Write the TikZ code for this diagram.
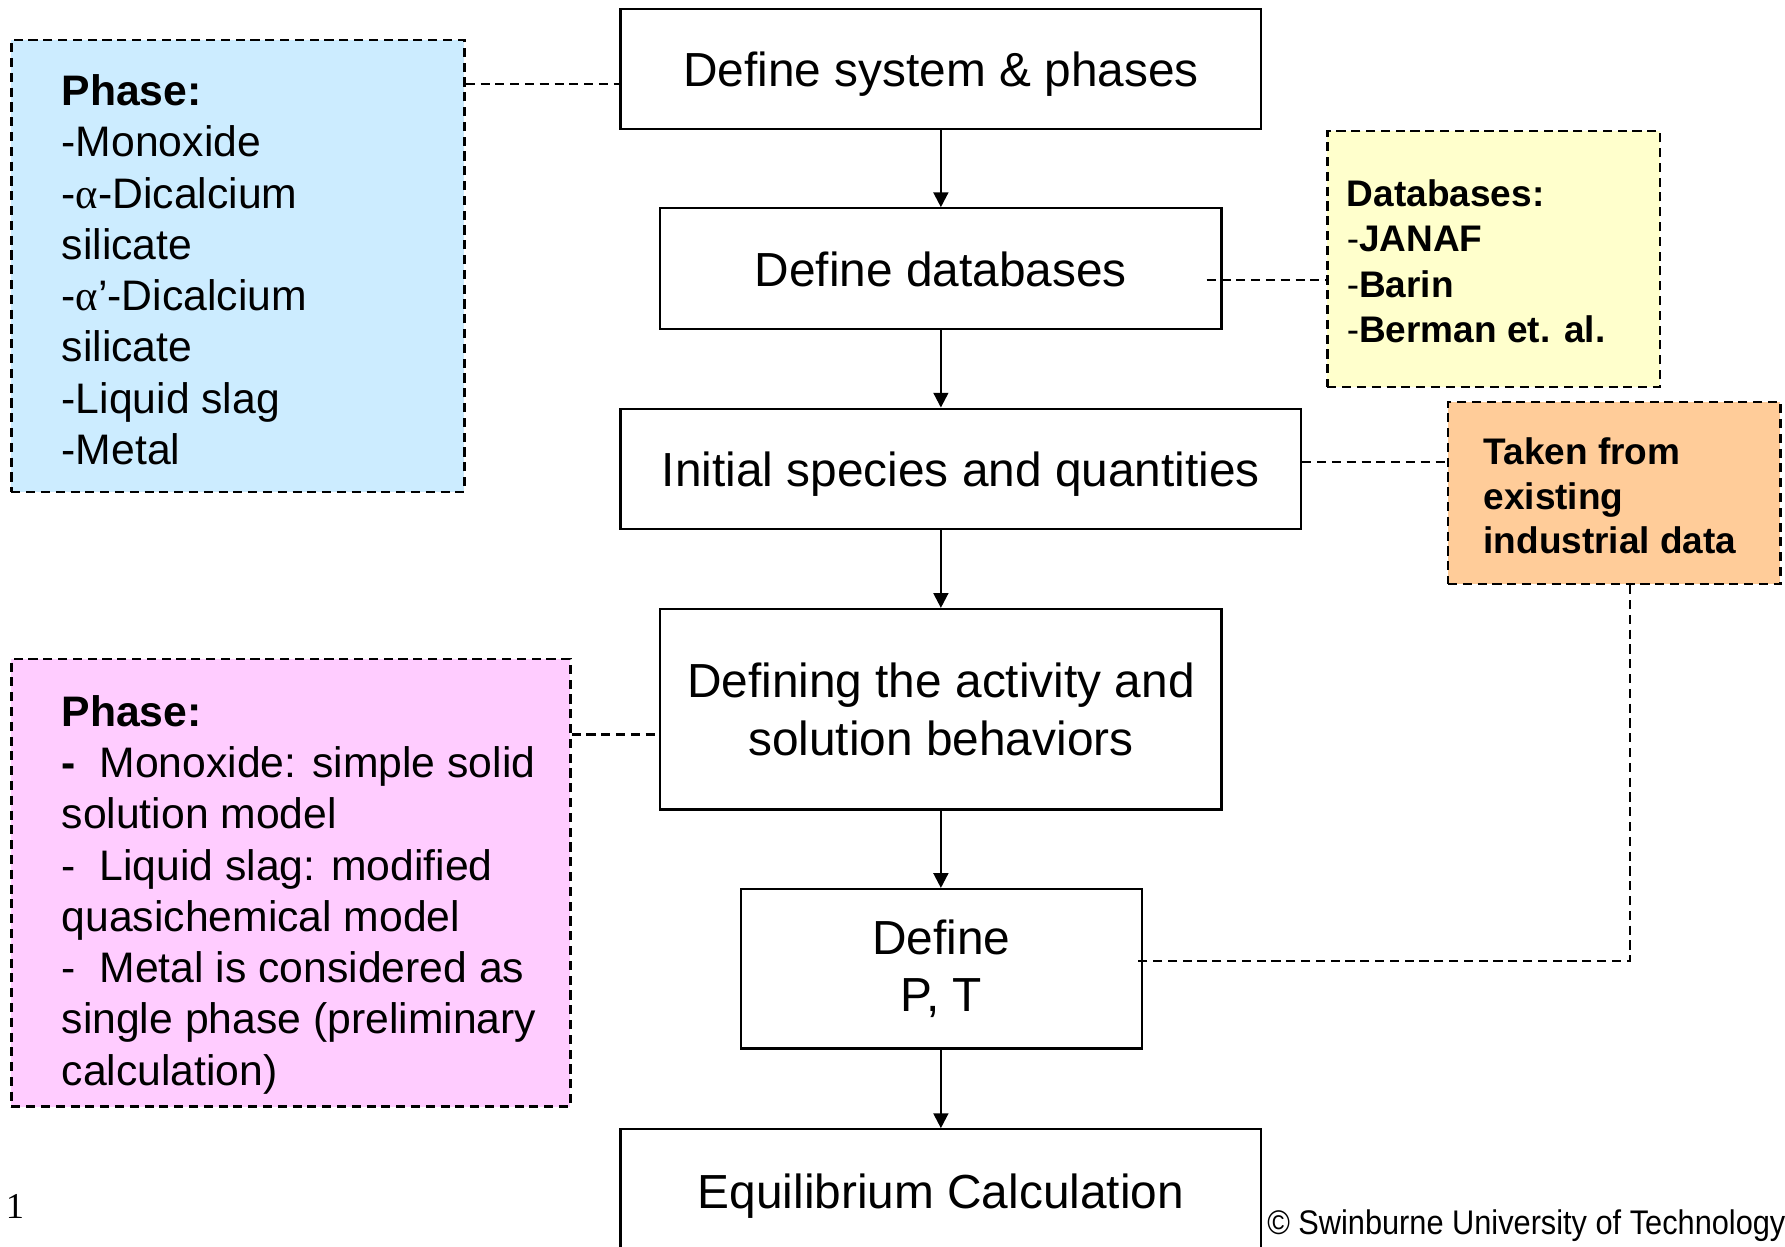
\documentclass[tikz,border=0pt]{standalone}
\usepackage{fontspec}
\usepackage{graphicx}
\setmainfont{Liberation Sans}
\newfontfamily\serifgreek{Liberation Serif}
\usetikzlibrary{arrows.meta,calc}
\definecolor{bluefill}{HTML}{CCECFF}
\definecolor{yellowfill}{HTML}{FFFFCC}
\definecolor{orangefill}{HTML}{FFCC99}
\definecolor{pinkfill}{HTML}{FFCCFF}
\newcommand{\galpha}{{\serifgreek α}}
\begin{document}
\begin{tikzpicture}[x=1pt,y=-1pt,
  mainbox/.style={draw=black,line width=2pt,fill=white,inner sep=0pt,align=center,
    font=\fontsize{42}{50.4}\selectfont},
  oneline/.style={text height=31pt,text depth=0pt},
  sidebox/.style={draw=black,line width=2.2pt,dash pattern=on 8pt off 5pt,inner sep=0pt},
  sidetext/.style={inner sep=0pt,align=left,anchor=west},
  flow/.style={line width=2pt,-{Triangle[length=13pt,width=13pt]}},
  dashline/.style={line width=2.2pt,dash pattern=on 8pt off 5pt}]
\useasboundingbox (0,0) rectangle (1568,1095);
% side boxes
\node[sidebox,fill=bluefill,minimum width=398pt,minimum height=397pt] (blue) at (209,233.5) {};
\node[sidetext,font=\fontsize{37.5}{45}\selectfont] (bluetext) at (54,237)
  {\textbf{Phase:}\\-Monoxide\\-\galpha-Dicalcium\\silicate\\-\galpha’-Dicalcium\\silicate\\-Liquid slag\\-Metal};
\node[sidebox,fill=yellowfill,minimum width=292pt,minimum height=225pt] (yel) at (1312,227.5) {};
\node[sidetext,font=\fontsize{32.5}{39.7}\selectfont] (yeltext) at (1183,229.5)
  {\textbf{Databases:}\\-\textbf{JANAF}\\-\textbf{Barin}\\-\textbf{Berman et. al.}};
\node[sidebox,fill=orangefill,minimum width=292pt,minimum height=160pt] (ora) at (1418,433) {};
\node[sidetext,font=\fontsize{32.5}{39.5}\selectfont\bfseries] (oratext) at (1303,435.5)
  {Taken from\\existing\\industrial data};
\node[sidebox,fill=pinkfill,minimum width=491pt,minimum height=393pt] (pink) at (255.5,775.5) {};
\node[sidetext,font=\fontsize{37.5}{45}\selectfont] (pinktext) at (54,786)
  {\textbf{Phase:}\\\textbf{-}\ \ Monoxide: simple solid\\solution model\\-\ \ Liquid slag: modified\\quasichemical model\\-\ \ Metal is considered as\\single phase (preliminary\\calculation)};
% main flow boxes
\node[mainbox,oneline,minimum width=563pt,minimum height=105pt] (b1) at (826.5,60.5) {Define system \& phases};
\node[mainbox,oneline,minimum width=493pt,minimum height=106pt] (b2) at (826.5,236) {Define databases};
\node[mainbox,oneline,minimum width=598pt,minimum height=106pt] (b3) at (844,412) {Initial species and quantities};
\node[mainbox,minimum width=493pt,minimum height=176pt] (b4) at (826.5,623) {Defining the activity and\\solution behaviors};
\node[mainbox,minimum width=352pt,minimum height=140pt] (b5) at (827,851) {Define\\P, T};
\node[mainbox,oneline,minimum width=563pt,minimum height=108pt] (b6) at (826.5,1046) {Equilibrium Calculation};
% flow arrows
\draw[flow] (b1.south) -- (b2.north);
\draw[flow] (b2.south) -- (b2.south |- b3.north);
\draw[flow] (b4.north |- b3.south) -- (b4.north);
\draw[flow] (b4.south) -- (b4.south |- b5.north);
\draw[flow] (b6.north |- b5.south) -- (b6.north);
% dashed connectors
\coordinate (c1) at (0,74);
\coordinate (c2) at (1060,246);
\coordinate (c3) at (0,406);
\coordinate (c4) at (0,645);
\coordinate (c5) at (1432,844);
\coordinate (c6) at (998,844);
\draw[dashline] (blue.east |- c1) -- (b1.west |- c1);
\draw[dashline] (c2) -- (yel.west |- c2);
\draw[dashline] (b3.east |- c3) -- (ora.west |- c3);
\draw[dashline] (pink.east |- c4) -- (b4.west |- c4);
\draw[dashline] (ora.south -| c5) -- (c5) -- (c6);
% footer
\node[inner sep=0pt,anchor=base west,font=\serifgreek\fontsize{32}{38}\selectfont] (pagenum) at (5,1070) {1};
\node[inner sep=0pt,anchor=base west,font=\fontsize{30}{36}\selectfont] (copyright) at (1113,1084) {\scalebox{0.9}[1]{© Swinburne University of Technology}};
\end{tikzpicture}
\end{document}
